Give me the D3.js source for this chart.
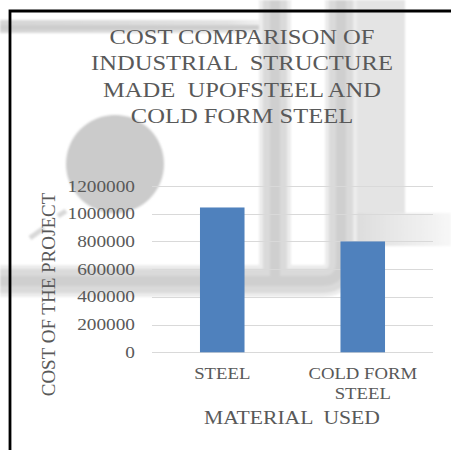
<!DOCTYPE html>
<html>
<head>
<meta charset="utf-8">
<script src="https://cdn.jsdelivr.net/npm/d3@7"></script>
<style>
  html, body { margin: 0; padding: 0; background: #fff; }
  svg { display: block; }
  text { font-family: "Liberation Serif", "Times New Roman", serif; fill: #595959; white-space: pre; }
</style>
</head>
<body>
<svg id="chart" width="451" height="450"></svg>
<script>
// Chart data
const categories = ["STEEL", "COLD FORM STEEL"];
const categoryLines = [["STEEL"], ["COLD FORM", "STEEL"]];
const costs = [1045000, 800000];
const yTicks = [0, 200000, 400000, 600000, 800000, 1000000, 1200000];
const titleLines = ["COST COMPARISON OF", "INDUSTRIAL  STRUCTURE", "MADE  UPOFSTEEL AND", "COLD FORM STEEL"];
const xTitle = "MATERIAL  USED";
const yTitle = "COST OF THE PROJECT";

const svg = d3.select("#chart");
const W = 451, H = 450;
const sx = 1.17; // horizontal text stretch

svg.append("rect").attr("width", W).attr("height", H).attr("fill", "#fff");

// --- faint background artwork (pipes and disc) ---
const defs = svg.append("defs");
defs.append("filter").attr("id", "soft")
  .append("feGaussianBlur").attr("stdDeviation", 1.1);
const fadeR = defs.append("linearGradient").attr("id", "fadeR")
  .attr("x1", 0).attr("x2", 1).attr("y1", 0).attr("y2", 0);
fadeR.append("stop").attr("offset", 0).attr("stop-color", "#dcdcdc");
fadeR.append("stop").attr("offset", 1).attr("stop-color", "#f7f7f7");
const fadeL = defs.append("linearGradient").attr("id", "fadeL")
  .attr("x1", 0).attr("x2", 1).attr("y1", 0).attr("y2", 0);
fadeL.append("stop").attr("offset", 0).attr("stop-color", "#d6d6d6");
fadeL.append("stop").attr("offset", 0.85).attr("stop-color", "#e2e2e2");
fadeL.append("stop").attr("offset", 1).attr("stop-color", "#f4f4f4");

const art = svg.append("g").attr("filter", "url(#soft)");
// pale block and right-hand branch
art.append("rect").attr("x", 353).attr("y", 0).attr("width", 52).attr("height", 216).attr("fill", "#e4e4e4");
art.append("path").attr("d", "M353,213 H451 V246 H353 Z").attr("fill", "url(#fadeR)");
// upper-left bar
art.append("rect").attr("x", 0).attr("y", 20).attr("width", 268).attr("height", 13).attr("fill", "url(#fadeL)");
art.append("rect").attr("x", 0).attr("y", 25).attr("width", 262).attr("height", 5).attr("fill", "#cdcdcd");
// lower pipe run joining the two uprights
const pipe = "M275,0 V281 M341,0 V262 Q341,281 322,281 H0";
art.append("path").attr("d", pipe).attr("fill", "none")
  .attr("stroke", "#ececec").attr("stroke-width", 32).attr("stroke-linejoin", "round");
art.append("path").attr("d", pipe).attr("fill", "none")
  .attr("stroke", "#dadada").attr("stroke-width", 24).attr("stroke-linejoin", "round");
art.append("path").attr("d", pipe).attr("fill", "none")
  .attr("stroke", "#cfcfcf").attr("stroke-width", 10).attr("stroke-linejoin", "round");
// disc
art.append("circle").attr("cx", 115).attr("cy", 164).attr("r", 49).attr("fill", "#cbcbcb");
// small fragments
art.append("path").attr("d", "M30,238 L44,228 M58,216 L66,211").attr("stroke", "#d8d8d8").attr("stroke-width", 5);

// --- frame ---
svg.append("path").attr("d", "M10,450 V11 H451").attr("fill", "none")
  .attr("stroke", "#000").attr("stroke-width", 2.8);

// --- title ---
const title = svg.append("g");
titleLines.forEach((t, i) => {
  title.append("text")
    .attr("transform", `translate(242,${43.5 + i * 26.5}) scale(${sx},1)`)
    .attr("text-anchor", "middle").attr("font-size", 21).text(t);
});

// --- scales ---
const x = d3.scaleBand().domain(categories).range([152, 433])
  .paddingInner(0.683).paddingOuter(0.3415);
const y = d3.scaleLinear().domain([0, 1200000]).range([352.3, 186]);

// gridlines
svg.append("g").selectAll("line").data(yTicks).join("line")
  .attr("x1", 152).attr("x2", 433)
  .attr("y1", d => Math.round(y(d)) + 0.5).attr("y2", d => Math.round(y(d)) + 0.5)
  .attr("stroke", "#d9d9d9").attr("stroke-width", 1);

// y tick labels
svg.append("g").selectAll("text").data(yTicks).join("text")
  .attr("transform", d => `translate(135,${y(d) + 5.5}) scale(${sx},1)`)
  .attr("text-anchor", "end").attr("font-size", 16.5)
  .text(d => String(d));

// bars
svg.append("g").selectAll("rect").data(costs).join("rect")
  .attr("x", (d, i) => x(categories[i]))
  .attr("width", x.bandwidth())
  .attr("y", d => y(d))
  .attr("height", d => y(0) - y(d))
  .attr("fill", "#4f81bd");

// category labels
categoryLines.forEach((lines, i) => {
  const cx = x(categories[i]) + x.bandwidth() / 2;
  lines.forEach((t, j) => {
    svg.append("text")
      .attr("transform", `translate(${cx},${378.5 + j * 20}) scale(${sx},1)`)
      .attr("text-anchor", "middle").attr("font-size", 16).text(t);
  });
});

// axis titles
svg.append("text")
  .attr("transform", `translate(292,424) scale(${sx},1)`)
  .attr("text-anchor", "middle").attr("font-size", 18.5).text(xTitle);
svg.append("text")
  .attr("transform", "translate(54.5,294.5) rotate(-90)")
  .attr("text-anchor", "middle").attr("font-size", 19).text(yTitle);
</script>
</body>
</html>
